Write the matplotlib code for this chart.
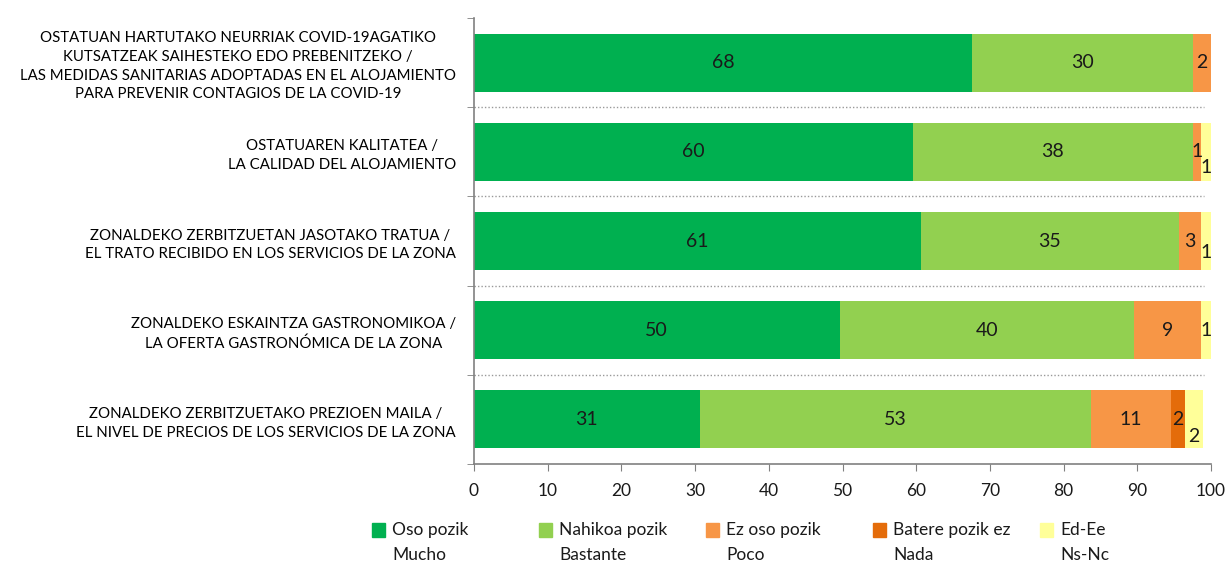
import matplotlib
matplotlib.use("Agg")
import matplotlib.pyplot as plt
import numpy as np
from matplotlib.patches import Rectangle

plt.rcParams['font.family'] = ['Lato', 'DejaVu Sans']

categories = [
    "OSTATUAN HARTUTAKO NEURRIAK COVID-19AGATIKO\nKUTSATZEAK SAIHESTEKO EDO PREBENITZEKO /\nLAS MEDIDAS SANITARIAS ADOPTADAS EN EL ALOJAMIENTO\nPARA PREVENIR CONTAGIOS DE LA COVID-19",
    "OSTATUAREN KALITATEA /\nLA CALIDAD DEL ALOJAMIENTO",
    "ZONALDEKO ZERBITZUETAN JASOTAKO TRATUA /\nEL TRATO RECIBIDO EN LOS SERVICIOS DE LA ZONA",
    "ZONALDEKO ESKAINTZA GASTRONOMIKOA /\nLA OFERTA GASTRONÓMICA DE LA ZONA",
    "ZONALDEKO ZERBITZUETAKO PREZIOEN MAILA /\nEL NIVEL DE PRECIOS DE LOS SERVICIOS DE LA ZONA",
]
series_names = ["Oso pozik\nMucho", "Nahikoa pozik\nBastante", "Ez oso pozik\nPoco",
                "Batere pozik ez\nNada", "Ed-Ee\nNs-Nc"]
mucho    = [67.6, 59.6, 60.6, 49.6, 30.6]
bastante = [30.0, 37.9, 35.0, 39.9, 53.1]
poco     = [2.4, 1.1, 3.0, 9.1, 10.9]
nada     = [0.0, 0.0, 0.0, 0.0, 1.9]
nsnc     = [0.0, 1.4, 1.4, 1.4, 2.4]
colors = ["#00B050", "#92D050", "#F79646", "#E46C0A", "#FFFF99"]

data = np.array([mucho, bastante, poco, nada, nsnc])
# small downward shift for the Ns-Nc labels (row units)
nsnc_shift = [0, 0.18, 0.13, 0, 0.19]

fig = plt.figure(figsize=(12.26, 5.63), dpi=100)
ax = fig.add_axes([0.3866, 0.1758, 0.6012, 0.7922])

y = np.arange(len(categories))
left = np.zeros(len(categories))
for k in range(data.shape[0]):
    ax.barh(y, data[k], left=left, height=0.65, color=colors[k], edgecolor='none')
    for i, v in enumerate(data[k]):
        if v > 0:
            dy = nsnc_shift[i] if k == 4 else 0
            ax.text(left[i] + v / 2, y[i] + dy, f"{v:.0f}", ha='center', va='center',
                    fontsize=14, color='#1a1a1a')
    left += data[k]

ax.set_xlim(0, 100)
ax.set_ylim(4.5, -0.5)
ax.set_xticks(np.arange(0, 101, 10))
ax.tick_params(axis='x', labelsize=12.5, colors='#808080', labelcolor='#1a1a1a', length=5, pad=9)
ax.set_yticks(y)
ax.set_yticklabels(categories, fontsize=10.8, multialignment='center', linespacing=1.42)
ax.tick_params(axis='y', which='major', length=0, pad=13)
ax.set_yticks(np.arange(-0.5, 5, 1), minor=True)
ax.tick_params(axis='y', which='minor', length=5, colors='#808080')

for b in np.arange(0.5, 4, 1):
    ax.axhline(b, xmin=0.0, xmax=0.99, color='#999999', linestyle=(0, (1, 1.5)), linewidth=1)

for s in ['top', 'right']:
    ax.spines[s].set_visible(False)
for s in ['left', 'bottom']:
    ax.spines[s].set_color('#808080')
    ax.spines[s].set_linewidth(1.2)

# legend
W, H = 1226, 563
for k, name in enumerate(series_names):
    x0 = 372 + k * 167
    fig.patches.append(Rectangle((x0 / W, 1 - 537 / H), 13 / W, 14 / H,
                                 transform=fig.transFigure, color=colors[k]))
    first, second = name.split("\n")
    fig.text((x0 + 20) / W, 1 - 530 / H, first, fontsize=12.5, va='center', color='#1a1a1a')
    fig.text((x0 + 20) / W, 1 - 555 / H, second, fontsize=12.5, va='center', color='#1a1a1a')

fig.savefig("out.png", dpi=100)
